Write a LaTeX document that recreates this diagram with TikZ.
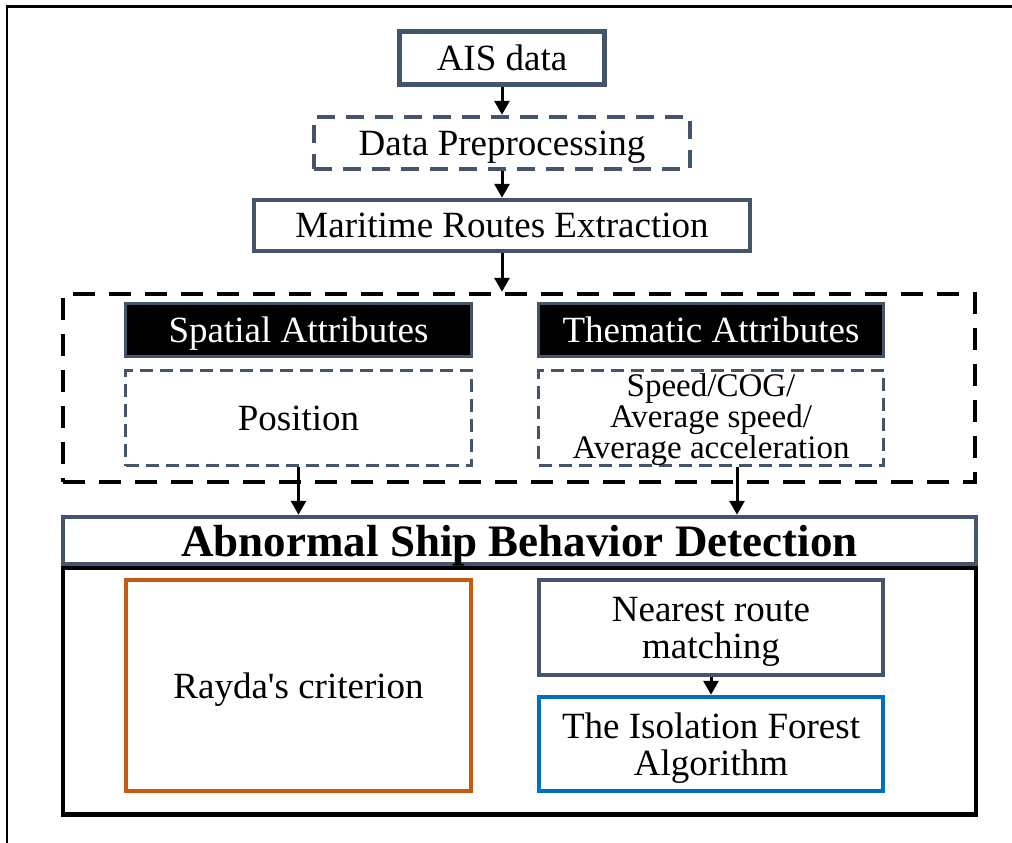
\documentclass[tikz,border=0pt]{standalone}
\usepackage{fontspec}
\setmainfont{Liberation Serif}
\usetikzlibrary{arrows.meta}
\definecolor{slate}{HTML}{44546A}
\definecolor{rorange}{HTML}{C55A11}
\definecolor{rblue}{HTML}{0070C0}
\begin{document}
\begin{tikzpicture}[x=1pt,y=-1pt,
  txt/.style={font=\fontsize{37}{37}\selectfont, align=center, inner sep=0pt, text=black, text depth=0pt},
  sbox/.style={txt, draw=slate, line width=4.5pt, fill=white},
  pbox/.style={txt, draw=slate, line width=4.5pt, dash pattern=on 18pt off 11pt, fill=white},
  gdash/.style={txt, draw=slate, line width=3.5pt, dash pattern=on 13pt off 7pt, fill=white},
  bigdash/.style={draw=black, line width=4.5pt, dash pattern=on 22pt off 14pt},
  hbox/.style={txt, draw=slate, line width=3.5pt, fill=black, text=white},
  arr/.style={line width=3pt, -{Triangle[length=14pt,width=15pt]}}
]
\path[use as bounding box] (0,0) rectangle (1012,843);
\fill[white] (0,0) rectangle (1012,843);
% frame lines
\draw[line width=3pt] (6,7) -- (1012,7);
\draw[line width=2pt] (7,7) -- (7,843);

% top chain
\node[sbox, minimum width=205, minimum height=53] (ais) at (502,58) {AIS data};
\node[pbox, minimum width=376, minimum height=52] (pre) at (502,143) {Data Preprocessing};
\node[sbox, minimum width=496, minimum height=51] (mre) at (502,225.5) {Maritime Routes Extraction};

% attributes group
\node[bigdash, minimum width=912, minimum height=188] (attr) at (519,388) {};
\node[hbox, minimum width=346, minimum height=53] (spat) at (298.5,330) {Spatial Attributes};
\node[hbox, minimum width=345, minimum height=53] (them) at (711,330) {Thematic Attributes};
\node[gdash, minimum width=346, minimum height=95] (pos) at (298.5,418) {Position};
\node[gdash, minimum width=345, minimum height=95, text depth=4pt, font=\fontsize{33}{27.5}\selectfont] (spd) at (711,418) {Speed/COG/\\Average speed/\\Average acceleration};

% detection block
\node[draw=black, line width=4.5pt, minimum width=913, minimum height=247] (outer) at (519.5,691) {};
\node[txt, draw=slate, line width=4.5pt, fill=white, minimum width=913, minimum height=47, font=\fontsize{45}{45}\selectfont\bfseries] (abn) at (519.5,540.5) {Abnormal Ship Behavior Detection};
\node[txt, draw=rorange, line width=4.5pt, fill=white, minimum width=345, minimum height=211] (ray) at (298.5,685.5) {Rayda\textquotesingle s criterion};
\node[sbox, minimum width=344, minimum height=95] (near) at (711,627.5) {Nearest route\\matching};
\node[txt, draw=rblue, line width=4.5pt, fill=white, minimum width=344, minimum height=94] (iso) at (711,744) {The Isolation Forest\\Algorithm};

% arrows
\draw[arr] (ais.south) -- (pre.north);
\draw[arr] (pre.south) -- (mre.north);
\draw[arr] (mre.south) -- (mre.south |- attr.north);
\draw[arr] (pos.south) -- (pos.south |- abn.north);
\draw[arr] ([xshift=26pt]spd.south) -- ([xshift=26pt]spd.south |- abn.north);
\draw[arr] (near.south) -- (iso.north);
\end{tikzpicture}
\end{document}
